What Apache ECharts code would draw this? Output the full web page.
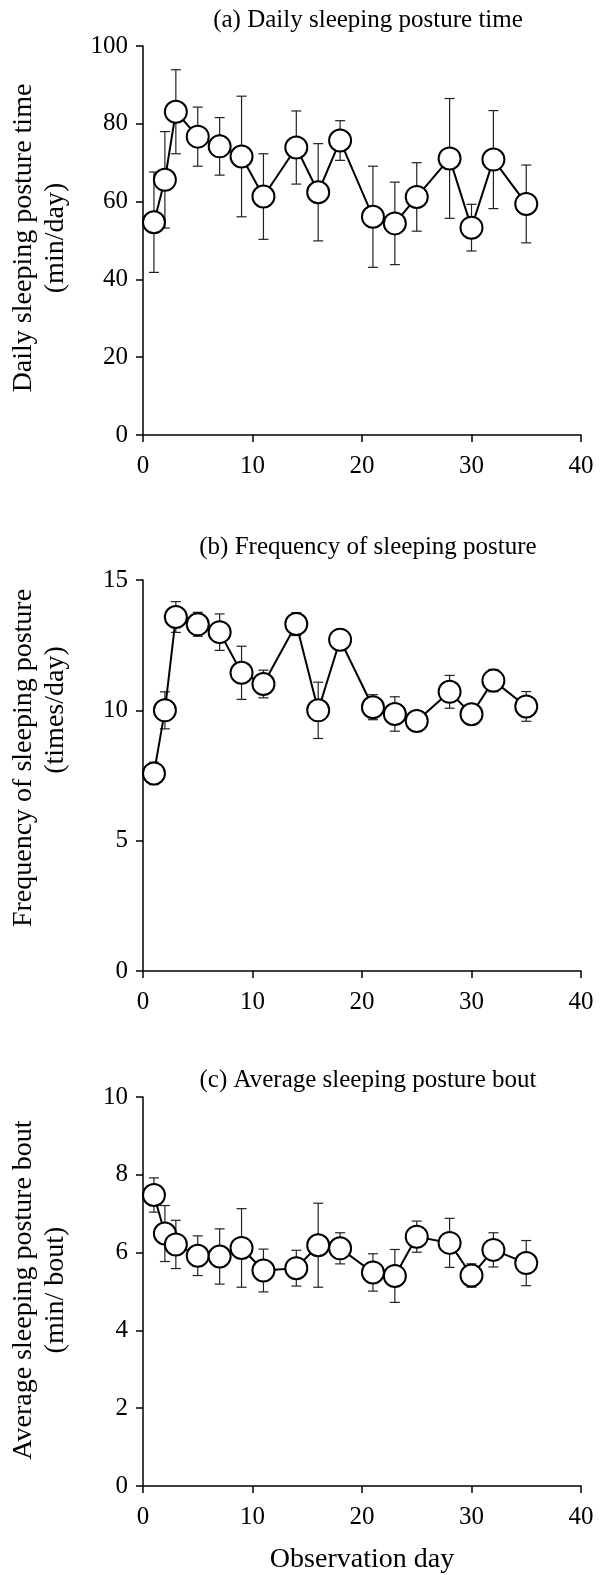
<!DOCTYPE html>
<html>
<head>
<meta charset="utf-8">
<script src="https://cdn.jsdelivr.net/npm/echarts@6/dist/echarts.min.js"></script>
<style>
    html, body { margin: 0; padding: 0; background: #fff; }
    #chart { width: 601px; height: 1575px; }
</style>
</head>
<body>
<div id="chart"></div>
<script>
; (function () {
    // observation days shared by all three panels
    const days = [1, 2, 3, 5, 7, 9, 11, 14, 16, 18, 21, 23, 25, 28, 30, 32, 35];

    // (a) daily sleeping posture time, min/day
    const timeMean = [54.7, 65.6, 83.1, 76.7, 74.2, 71.6, 61.3, 73.9, 62.4, 75.7, 56.1, 54.4, 61.2, 71.1, 53.3, 70.8, 59.4];
    const timeSd = [12.9, 12.4, 10.8, 7.6, 7.4, 15.5, 11.0, 9.4, 12.5, 5.1, 13.0, 10.6, 8.8, 15.4, 6.0, 12.6, 10.0];

    // (b) frequency of sleeping posture, times/day
    const freqMean = [7.58, 10.0, 13.58, 13.3, 13.0, 11.44, 11.01, 13.31, 10.0, 12.71, 10.12, 9.86, 9.59, 10.71, 9.85, 11.14, 10.15];
    const freqSd = [0.43, 0.71, 0.59, 0.46, 0.70, 1.02, 0.53, 0.44, 1.08, 0.40, 0.48, 0.66, 0.37, 0.63, 0.30, 0.43, 0.57];

    // (c) average sleeping posture bout, min/bout
    const boutMean = [7.48, 6.49, 6.21, 5.92, 5.90, 6.12, 5.54, 5.60, 6.19, 6.11, 5.49, 5.40, 6.41, 6.25, 5.41, 6.07, 5.73];
    const boutSd = [0.44, 0.72, 0.62, 0.51, 0.71, 1.01, 0.55, 0.46, 1.08, 0.40, 0.48, 0.68, 0.40, 0.63, 0.30, 0.44, 0.58];

    const xTicks = { min: 0, max: 40, interval: 10 };

    const FONT = 'Liberation Serif';

    // yNames: [first line, second line], yNameY: vertical centre of each line
    const panels = [
        {
            title: '(a) Daily sleeping posture time',
            yNames: ['Daily sleeping posture time', '(min/day)'],
            yNameY: [238, 238],
            mean: timeMean, sd: timeSd,
            yMin: 0, yMax: 100, yStep: 20,
            top: 46, height: 389, titleTop: 8
        },
        {
            title: '(b) Frequency of sleeping posture',
            yNames: ['Frequency of sleeping posture', '(times/day)'],
            yNameY: [758, 710],
            mean: freqMean, sd: freqSd,
            yMin: 0, yMax: 15, yStep: 5,
            top: 580, height: 391, titleTop: 535
        },
        {
            title: '(c) Average sleeping posture bout',
            yNames: ['Average sleeping posture bout', '(min/ bout)'],
            yNameY: [1290, 1290],
            mean: boutMean, sd: boutSd,
            yMin: 0, yMax: 10, yStep: 2,
            top: 1097, height: 392, titleTop: 1068
        }
    ];

    const axisLine = { show: true, lineStyle: { color: '#000', width: 1.5 } };
    const axisTick = { show: true, inside: false, length: 7, lineStyle: { color: '#000', width: 1.5 } };
    const labelStyle = { color: '#000', fontFamily: FONT, fontSize: 25 };

    function errorBar(params, api) {
        const x = api.value(0);
        const top = api.coord([x, api.value(2)]);
        const bot = api.coord([x, api.value(1)]);
        const w = 5;
        const style = { stroke: '#222', lineWidth: 1.2 };
        return {
            type: 'group',
            children: [
                { type: 'line', shape: { x1: top[0], y1: top[1], x2: bot[0], y2: bot[1] }, style: style },
                { type: 'line', shape: { x1: top[0] - w, y1: top[1], x2: top[0] + w, y2: top[1] }, style: style },
                { type: 'line', shape: { x1: bot[0] - w, y1: bot[1], x2: bot[0] + w, y2: bot[1] }, style: style }
            ]
        };
    }

    // rotated y axis titles, one text per line
    function yNameText(text, x, y) {
        return {
            type: 'text',
            x: x, y: y,
            rotation: Math.PI / 2,
            style: {
                text: text,
                fill: '#000',
                font: '28px "' + FONT + '"',
                align: 'center', verticalAlign: 'middle',
                textAlign: 'center', textVerticalAlign: 'middle'
            }
        };
    }

    const graphics = [];
    panels.forEach(p => {
        graphics.push(yNameText(p.yNames[0], 24, p.yNameY[0]));
        graphics.push(yNameText(p.yNames[1], 56, p.yNameY[1]));
    });

    const option = {
        animation: false,
        backgroundColor: '#fff',
        title: panels.map(p => ({
            text: p.title,
            left: 368,
            top: p.titleTop,
            textAlign: 'center',
            padding: 0,
            textStyle: { color: '#000', fontFamily: FONT, fontSize: 25, fontWeight: 'normal' }
        })),
        graphic: graphics,
        grid: panels.map(p => ({ left: 143, width: 438, top: p.top, height: p.height })),
        xAxis: panels.map((p, i) => ({
            type: 'value',
            gridIndex: i,
            min: xTicks.min, max: xTicks.max, interval: xTicks.interval,
            axisLine: axisLine,
            axisTick: axisTick,
            splitLine: { show: false },
            axisLabel: Object.assign({ margin: 19 }, labelStyle),
            name: i === 2 ? 'Observation day' : '',
            nameLocation: 'middle',
            nameGap: 60,
            nameTextStyle: { color: '#000', fontFamily: FONT, fontSize: 28 }
        })),
        yAxis: panels.map((p, i) => ({
            type: 'value',
            gridIndex: i,
            min: p.yMin, max: p.yMax, interval: p.yStep,
            axisLine: axisLine,
            axisTick: axisTick,
            splitLine: { show: false },
            axisLabel: Object.assign({ margin: 15 }, labelStyle)
        })),
        series: []
    };

    panels.forEach((p, i) => {
        option.series.push({
            type: 'custom',
            xAxisIndex: i, yAxisIndex: i,
            z: 1,
            renderItem: errorBar,
            encode: { x: 0, y: [1, 2] },
            data: days.map((d, k) => [d, p.mean[k] - p.sd[k], p.mean[k] + p.sd[k]])
        });
        option.series.push({
            type: 'line',
            xAxisIndex: i, yAxisIndex: i,
            z: 3,
            symbol: 'circle',
            symbolSize: 22,
            showAllSymbol: true,
            lineStyle: { color: '#000', width: 2 },
            itemStyle: { color: '#fff', borderColor: '#000', borderWidth: 2 },
            data: days.map((d, k) => [d, p.mean[k]])
        });
    });

    const myChart = echarts.init(document.getElementById('chart'));
    myChart.setOption(option);
})()
</script>
</body>
</html>
